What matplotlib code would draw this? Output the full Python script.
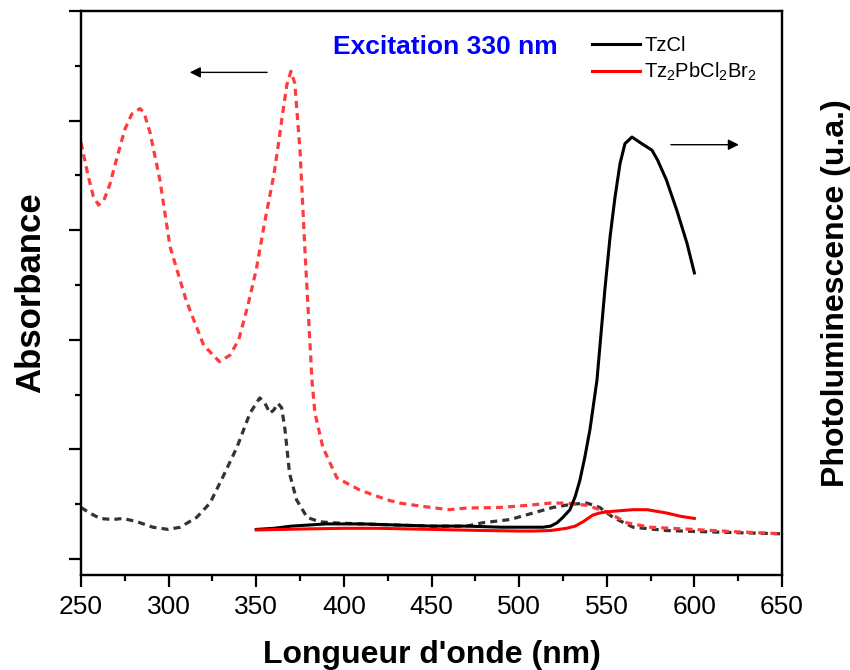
import matplotlib
matplotlib.use('Agg')
import matplotlib.pyplot as plt
from matplotlib.ticker import MultipleLocator

plt.rcParams['font.family'] = ['Liberation Sans', 'DejaVu Sans']
plt.rcParams['mathtext.fontset'] = 'custom'
plt.rcParams['mathtext.rm'] = 'Liberation Sans'
plt.rcParams['mathtext.default'] = 'rm'

# absorbance, Tz2PbCl2Br2 (red dashed)
abs_tz2_x = [250, 254, 257, 260, 263, 266.5, 270.5, 275, 279, 283.7, 286, 289.4, 295, 300.8,
             310, 320, 329, 335, 340, 345, 350, 355, 360, 362.6, 365, 367.5, 369.8, 372, 375,
             378, 381.8, 383.5, 388, 396, 409, 424.6, 432, 445, 460, 470, 489, 505, 517.6, 527,
             538.7, 550, 561.5, 574.7, 599, 622, 650]
abs_tz2_y = [3.80, 3.50, 3.31, 3.23, 3.27, 3.42, 3.66, 3.92, 4.06, 4.11, 4.07, 3.89, 3.46, 2.85,
             2.36, 1.95, 1.80, 1.86, 2.0, 2.3, 2.64, 3.09, 3.5, 3.78, 4.06, 4.33, 4.45, 4.34, 3.72,
             2.75, 1.63, 1.33, 1.02, 0.74, 0.63, 0.54, 0.51, 0.48, 0.45, 0.465, 0.47, 0.49, 0.51, 0.51,
             0.49, 0.43, 0.33, 0.29, 0.27, 0.25, 0.23]

# absorbance, TzCl (dark dashed)
abs_tzcl_x = [250, 255, 260.8, 268, 274, 282, 291, 299.8, 306.6, 316, 323.6, 331, 339, 346.4, 352,
              355, 357.8, 360, 362.4, 364.5, 366.4, 369, 373, 379, 386, 393.8, 410, 430, 450, 470,
              479, 494.8, 508, 519.3, 530, 538.7, 546, 553.6, 565, 584, 603, 625, 650]
abs_tzcl_y = [0.47, 0.42, 0.37, 0.36, 0.37, 0.34, 0.29, 0.27, 0.29, 0.38, 0.51, 0.75, 1.02, 1.33, 1.47,
              1.42, 1.33, 1.36, 1.42, 1.38, 1.18, 0.78, 0.54, 0.38, 0.34, 0.33, 0.32, 0.31, 0.30, 0.30,
              0.33, 0.36, 0.42, 0.47, 0.50, 0.51, 0.47, 0.38, 0.29, 0.26, 0.25, 0.24, 0.23]

# photoluminescence, TzCl
pl_tzcl_x = [350, 360, 370, 380, 390, 400, 410, 430, 450, 470, 490, 505, 513.6, 518, 521.6, 525, 529,
             532, 534.7, 537.5, 540.4, 544.4, 549, 551.9, 554.7, 557.6, 560.4, 564.4, 569, 575.8, 579,
             584, 590, 595.8, 600]
pl_tzcl_y = [0.27, 0.28, 0.30, 0.31, 0.32, 0.32, 0.32, 0.31, 0.30, 0.30, 0.29, 0.29, 0.29, 0.30, 0.33,
             0.38, 0.45, 0.57, 0.72, 0.93, 1.18, 1.63, 2.47, 2.94, 3.30, 3.61, 3.79, 3.85, 3.80, 3.73,
             3.64, 3.46, 3.18, 2.88, 2.61]

# photoluminescence, Tz2PbCl2Br2
pl_tz2_x = [350, 365, 380, 400, 420, 450, 480, 500, 508, 518, 527, 532, 536.5, 542, 546, 550, 557,
            565, 573, 584, 592, 600]
pl_tz2_y = [0.265, 0.27, 0.275, 0.28, 0.28, 0.27, 0.26, 0.255, 0.255, 0.26, 0.28, 0.30, 0.34, 0.40,
            0.42, 0.43, 0.44, 0.45, 0.45, 0.42, 0.39, 0.37]

fig = plt.figure(figsize=(8.5, 6.7), dpi=100)
ax = fig.add_axes([81 / 850, 1 - 575 / 670, 701 / 850, 564 / 670])
ax2 = ax.twinx()

dash = (0, (2.2, 1.6))
ax.plot(abs_tzcl_x, abs_tzcl_y, color='#333333', lw=2.3, linestyle=dash)
ax.plot(abs_tz2_x, abs_tz2_y, color='#ff3b3b', lw=2.3, linestyle=dash)

ax2.plot(pl_tzcl_x, pl_tzcl_y, color='black', lw=2.2, label='TzCl')
ax2.plot(pl_tz2_x, pl_tz2_y, color='#ff0000', lw=2.2, label='Tz$_2$PbCl$_2$Br$_2$')

for a in (ax, ax2):
    a.set_xlim(250, 650)
    a.set_ylim(-0.146, 5.0)
    for s in a.spines.values():
        s.set_linewidth(1.6)

ax.xaxis.set_major_locator(MultipleLocator(50))
ax.xaxis.set_minor_locator(MultipleLocator(25))
ax.yaxis.set_major_locator(MultipleLocator(1))
ax.yaxis.set_minor_locator(MultipleLocator(0.5))
ax.tick_params(which='major', direction='out', length=8.5, width=1.6, labelsize=19, pad=6)
ax.tick_params(which='minor', direction='out', length=4.3, width=1.6)
ax.tick_params(axis='y', which='both', labelleft=False)
ax2.tick_params(axis='y', which='both', right=False, labelright=False)

ax.set_xlabel("Longueur d'onde (nm)", fontsize=23, fontweight='bold', labelpad=15)
ax.set_ylabel('Absorbance', fontsize=25, fontweight='bold', labelpad=16)
ax2.set_ylabel('Photoluminescence (u.a.)', fontsize=23, fontweight='bold', labelpad=28,
               rotation=90)

ax.text(458, 4.67, 'Excitation 330 nm', color='#0000ff', fontsize=19, fontweight='bold',
        ha='center', va='center')

ax.annotate('', xy=(310.5, 4.44), xytext=(357.8, 4.44),
            arrowprops=dict(arrowstyle='-|>', color='black', lw=1.0, mutation_scale=16))
ax2.annotate('', xy=(627, 3.78), xytext=(585, 3.78),
             arrowprops=dict(arrowstyle='-|>', color='black', lw=1.0, mutation_scale=16))

ax2.legend(loc='upper left', bbox_to_anchor=(0.703, 0.988), frameon=False, fontsize=14.5,
           handlelength=2.4, handletextpad=0.2, labelspacing=0.3, borderpad=0.4)

fig.savefig('out.png', dpi=100)
